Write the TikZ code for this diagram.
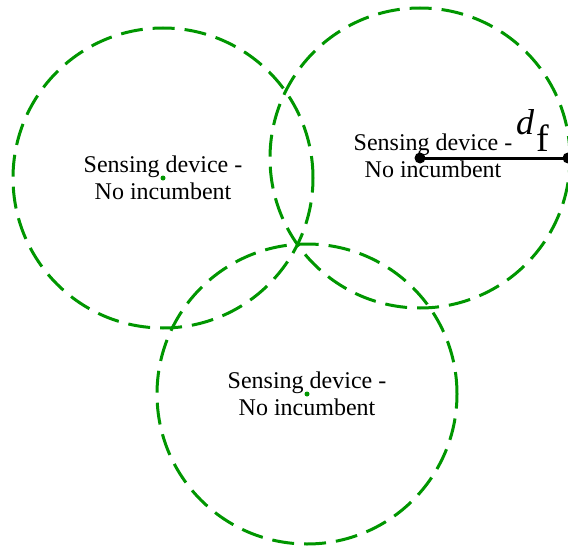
\documentclass[tikz,border=0pt]{standalone}
\usepackage{fontspec}
\setmainfont{Liberation Serif}
\usepackage{xcolor}
\usetikzlibrary{positioning, calc}

\definecolor{rangegreen}{RGB}{0,150,0}

\begin{document}
\begin{tikzpicture}[
    x=1pt, y=-1pt,
    rangecircle/.style={circle, draw=rangegreen, line width=3pt, dash pattern=on 22pt off 10pt, minimum size=300pt, inner sep=0pt},
    sensor/.style={circle, fill=rangegreen, minimum size=5pt, inner sep=0pt},
    endpt/.style={circle, fill=black, minimum size=11pt, inner sep=0pt},
    devtext/.style={align=center, font=\fontsize{24}{27}\selectfont, inner sep=0pt},
    dist/.style={line width=3pt}
]
\useasboundingbox (0,0) rectangle (568,551);

% Sensing devices (centres)
\node[sensor] (s1) at (163,178) {};
\node[sensor] (s2) at (420,158) {};
\node[sensor] (s3) at (307,394) {};

% Sensing ranges
\node[rangecircle] (r1) at (s1) {};
\node[rangecircle] (r2) at (s2) {};
\node[rangecircle] (r3) at (s3) {};

% Labels
\node[devtext] (t1) at (s1) {Sensing device -\\No incumbent};
\node[devtext] (t2) at (433,156) {Sensing device -\\No incumbent};
\node[devtext] (t3) at (s3) {Sensing device -\\No incumbent};

% Detection distance
\node[endpt] (p2) at (s2) {};
\node[endpt] (e2) at (568,158) {};
\draw[dist] (p2.center) -- (e2.center);
\node[anchor=base west, inner sep=0pt] (df) at (516,135)
    {{\fontsize{36}{38}\selectfont\itshape d}\kern2pt\raisebox{-17pt}{\fontsize{38}{40}\selectfont f}};

\end{tikzpicture}
\end{document}
